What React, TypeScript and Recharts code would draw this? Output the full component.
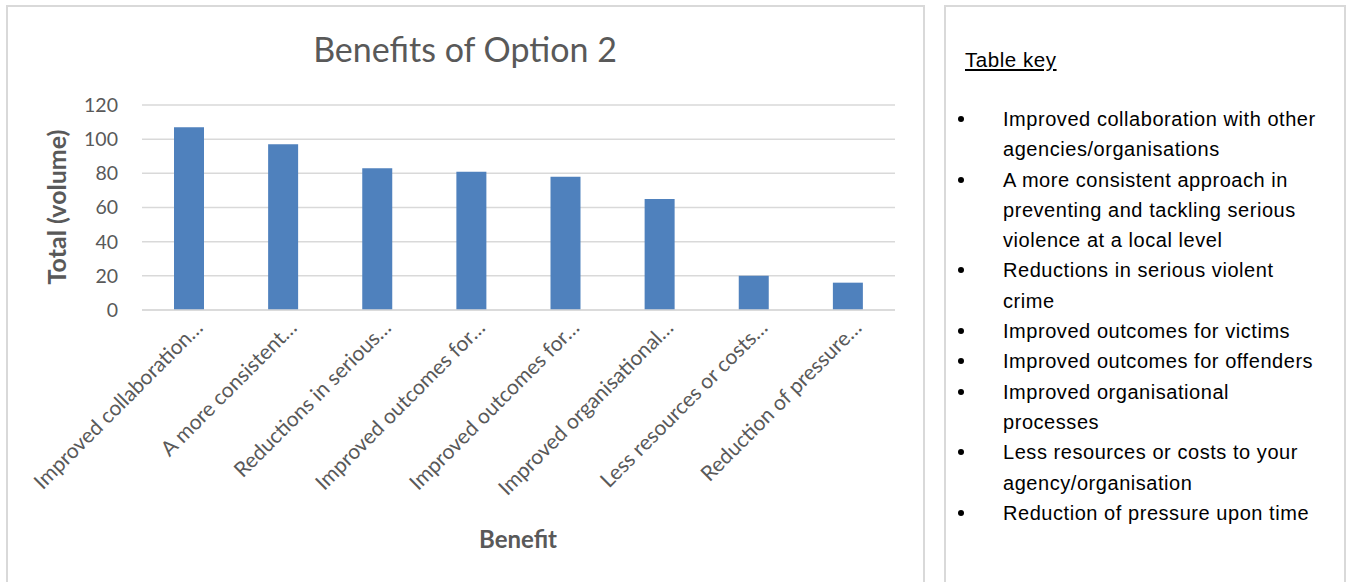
import React from "react";
import { BarChart, Bar, XAxis, YAxis, CartesianGrid } from "recharts";

const benefits = [
  "Improved collaboration with other agencies/organisations",
  "A more consistent approach in preventing and tackling serious violence at a local level",
  "Reductions in serious violent crime",
  "Improved outcomes for victims",
  "Improved outcomes for offenders",
  "Improved organisational processes",
  "Less resources or costs to your agency/organisation",
  "Reduction of pressure upon time",
];

// shortened labels as shown under the bars
const tickLabels = [
  "Improved collaboration…",
  "A more consistent…",
  "Reductions in serious…",
  "Improved outcomes for…",
  "Improved outcomes for…",
  "Improved organisational…",
  "Less resources or costs…",
  "Reduction of pressure…",
];

const totals = [107, 97, 83, 81, 78, 65, 20, 16];

const yTicks = [0, 20, 40, 60, 80, 100, 120];

// wrapped lines of the table key
const keyLines = [
  ["Improved collaboration with other", "agencies/organisations"],
  ["A more consistent approach in", "preventing and tackling serious", "violence at a local level"],
  ["Reductions in serious violent", "crime"],
  ["Improved outcomes for victims"],
  ["Improved outcomes for offenders"],
  ["Improved organisational", "processes"],
  ["Less resources or costs to your", "agency/organisation"],
  ["Reduction of pressure upon time"],
];

const FONT = "Lato, 'Open Sans', sans-serif";
const GREY = "#595959";

const data = benefits.map((b, i) => ({ benefit: b, total: totals[i] }));

const XTick = ({ x, y, payload }: any) => (
  <g transform={`translate(${x + 15},${y + 19})`}>
    <text
      transform="rotate(-45)"
      textAnchor="end"
      fill={GREY}
      fontSize={21}
      fontFamily={FONT}
    >
      {tickLabels[payload.index]}
    </text>
  </g>
);

export default function App() {
  return (
    <div
      style={{
        position: "absolute",
        left: 0,
        top: 0,
        width: 1350,
        height: 582,
        overflow: "hidden",
        background: "#fff",
      }}
    >
      <div
        style={{
          position: "absolute",
          left: 6,
          top: 5,
          width: 919,
          height: 600,
          border: "2px solid #d9d9d9",
          boxSizing: "border-box",
        }}
      />
      <div style={{ position: "absolute", left: 0, top: 0 }}>
        <BarChart
          width={930}
          height={582}
          data={data}
          margin={{ top: 105, right: 35, left: 62, bottom: 172 }}
          barCategoryGap="34%"
        >
          <CartesianGrid vertical={false} stroke="#d9d9d9" strokeWidth={1.5} />
          <XAxis
            dataKey="benefit"
            interval={0}
            height={100}
            tickSize={0}
            tickMargin={0}
            tick={<XTick />}
            axisLine={{ stroke: "#d9d9d9", strokeWidth: 1.5 }}
            tickLine={false}
          />
          <YAxis
            width={80}
            domain={[0, 120]}
            ticks={yTicks}
            tickSize={0}
            tickMargin={24}
            axisLine={false}
            tickLine={false}
            tick={{ fill: GREY, fontSize: 19.5, fontFamily: FONT }}
          />
          <Bar dataKey="total" fill="#4f81bd" isAnimationActive={false} />
          <text
            x={465}
            y={62}
            textAnchor="middle"
            fill={GREY}
            fontSize={34}
            fontFamily={FONT}
          >
            Benefits of Option 2
          </text>
          <text
            x={66}
            y={207}
            transform="rotate(-90 66 207)"
            textAnchor="middle"
            fill={GREY}
            fontSize={25}
            fontWeight="bold"
            fontFamily={FONT}
          >
            Total (volume)
          </text>
          <text
            x={518}
            y={548}
            textAnchor="middle"
            fill={GREY}
            fontSize={24}
            fontWeight="bold"
            fontFamily={FONT}
          >
            Benefit
          </text>
        </BarChart>
      </div>
      <div
        style={{
          position: "absolute",
          left: 944,
          top: 5,
          width: 402,
          height: 600,
          border: "2px solid #d9d9d9",
          boxSizing: "border-box",
          fontFamily: "'Liberation Sans', Arial, sans-serif",
          fontSize: 20,
          letterSpacing: 0.55,
          color: "#000",
        }}
      >
        <div
          style={{
            position: "absolute",
            left: 19,
            top: 40,
            textDecoration: "underline",
            lineHeight: "26px",
            fontSize: 20.5,
          }}
        >
          Table key
        </div>
        <div style={{ position: "absolute", left: 0, top: 97, lineHeight: "30.3px" }}>
          {keyLines.map((lines, i) => (
            <div key={i} style={{ position: "relative", paddingLeft: 57, whiteSpace: "nowrap" }}>
              <span
                style={{
                  position: "absolute",
                  left: 12,
                  top: 12,
                  width: 6,
                  height: 6,
                  borderRadius: 3,
                  background: "#000",
                }}
              />
              {lines.map((l, j) => (
                <div key={j}>{l}</div>
              ))}
            </div>
          ))}
        </div>
      </div>
    </div>
  );
}
